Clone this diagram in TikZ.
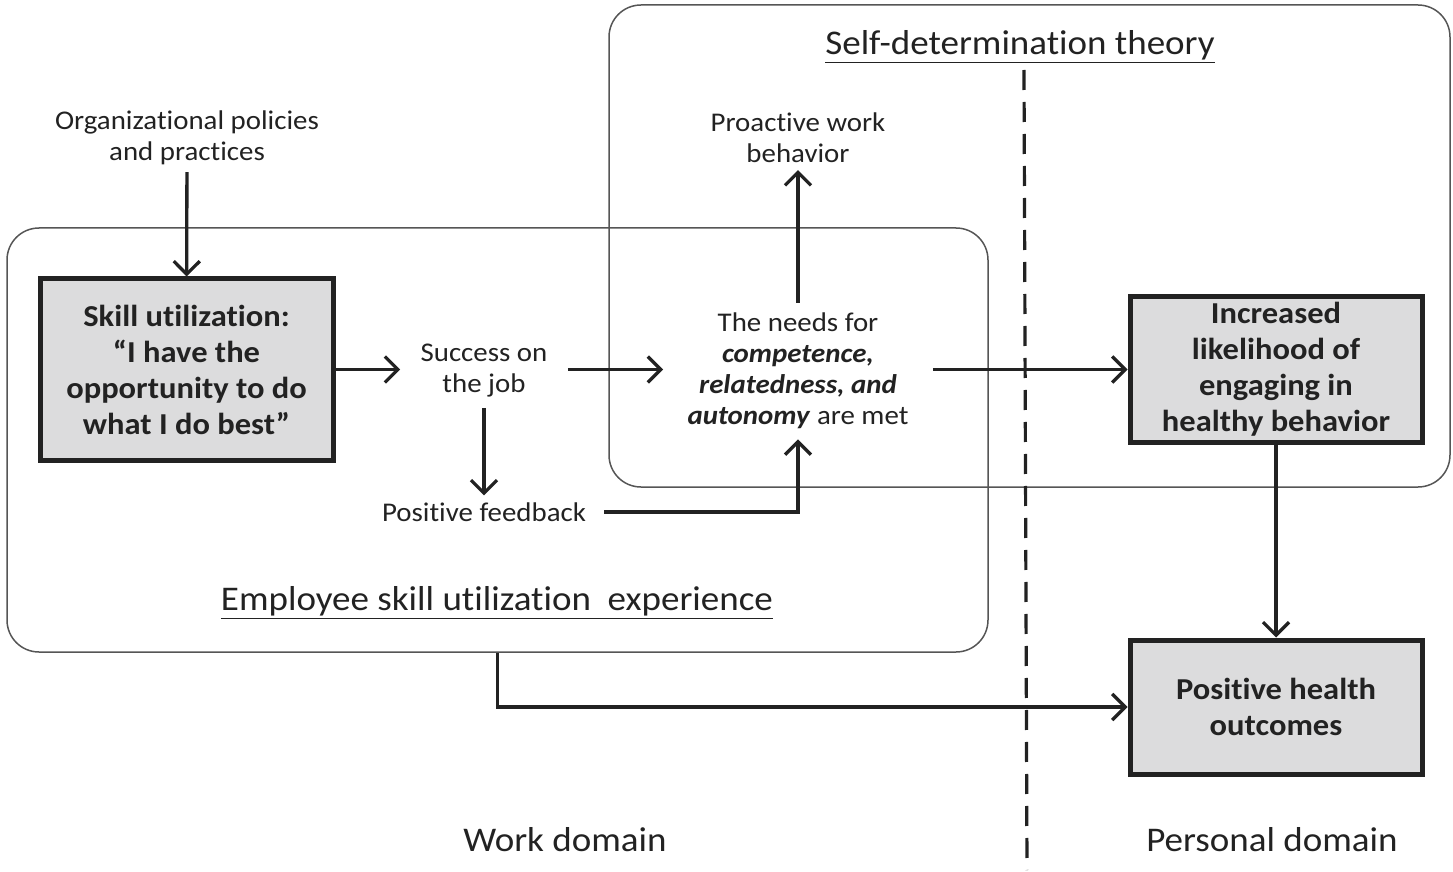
\documentclass[tikz,border=0pt]{standalone}
\usepackage{xcolor}
\usepackage{fontspec}
\setmainfont[Ligatures=NoCommon, FakeStretch=1.07]{Carlito}
\usetikzlibrary{arrows.meta}

\definecolor{boxgray}{HTML}{DCDCDD}
\definecolor{ink}{HTML}{222222}
\definecolor{frame}{HTML}{555555}

\tikzset{
    arr/.style={line width=1.65pt, ink, -{Straight Barb[length=6.5pt, width=13pt, line width=1.65pt]}},
    plain/.style={align=center, text=ink, font=\fontsize{13.5}{15.5}\selectfont},
    outcome/.style={draw=ink, line width=2.5pt, fill=boxgray, align=center, text=ink,
                    font=\fontsize{15.2}{18}\selectfont\bfseries, inner sep=0pt},
    frame/.style={draw=frame, line width=0.75pt, rounded corners=16pt, inner sep=0pt},
    heading/.style={text=ink, font=\fontsize{17.3}{20}\selectfont},
    divider/.style={line width=1.6pt, ink, dash pattern=on 10pt off 6pt}
}

\begin{document}
\begin{tikzpicture}[x=0.5pt, y=-0.5pt]
    %\draw[help lines] (0,0) grid[step=50] (1453,872);
    \useasboundingbox (0,0) rectangle (1453,872);

    % the two regions
    \node[frame, minimum width=420.5pt, minimum height=241pt] (sdt) at (1029.5,246) {};
    \node[frame, minimum width=490.5pt, minimum height=212pt] (emp) at (497.5,440) {};
    \draw[divider] (1024,70) -- (1027,870);

    \node[heading] (sdttitle) at (1020,47) {\underline{Self-determination theory}};
    \node[heading] (emptitle) at (497,603) {\underline{Employee skill utilization\ \ experience}};
    \node[heading] (work) at (565,840) {Work domain};
    \node[heading] (personal) at (1272,840) {Personal domain};

    % nodes
    \node[plain] (org) at (187,138) {Organizational policies\\and practices};
    \node[outcome, minimum width=146.5pt, minimum height=90.5pt] (skill) at (186.5,369.5)
        {Skill utilization:\\``I have the\\opportunity to do\\what I do best''};
    \node[plain, inner xsep=10pt, inner ysep=5pt] (success) at (484,371) {Success on\\the job};
    \node[plain, inner xsep=9pt] (feedback) at (484,512) {Positive feedback};
    \node[plain, inner xsep=12pt, inner ysep=5pt] (needs) at (798,371)
        {The needs for\\\textbf{\textit{competence,}}\\\textbf{\textit{relatedness, and}}\\\textbf{\textit{autonomy}} are met};
    \node[plain] (proactive) at (798,138) {Proactive work\\behavior};
    \node[outcome, minimum width=146pt, minimum height=73pt] (likely) at (1276,369.5)
        {Increased\\likelihood of\\engaging in\\healthy behavior};
    \node[outcome, minimum width=146pt, minimum height=67pt] (health) at (1276,707)
        {Positive health\\outcomes};

    % connectors
    \draw[arr] (org) -- (skill);
    \draw[arr] (skill) -- (skill -| success.west);
    \draw[arr] (skill -| success.east) -- (skill -| needs.west);
    \draw[arr] (success) -- (feedback);
    \draw[arr] (feedback) -| (needs);
    \draw[arr] (needs) -- (proactive);
    \draw[arr] (skill -| needs.east) -- (likely);
    \draw[arr] (likely) -- (health);
    \draw[arr] (emp.south) |- (health.west);
\end{tikzpicture}
\end{document}
